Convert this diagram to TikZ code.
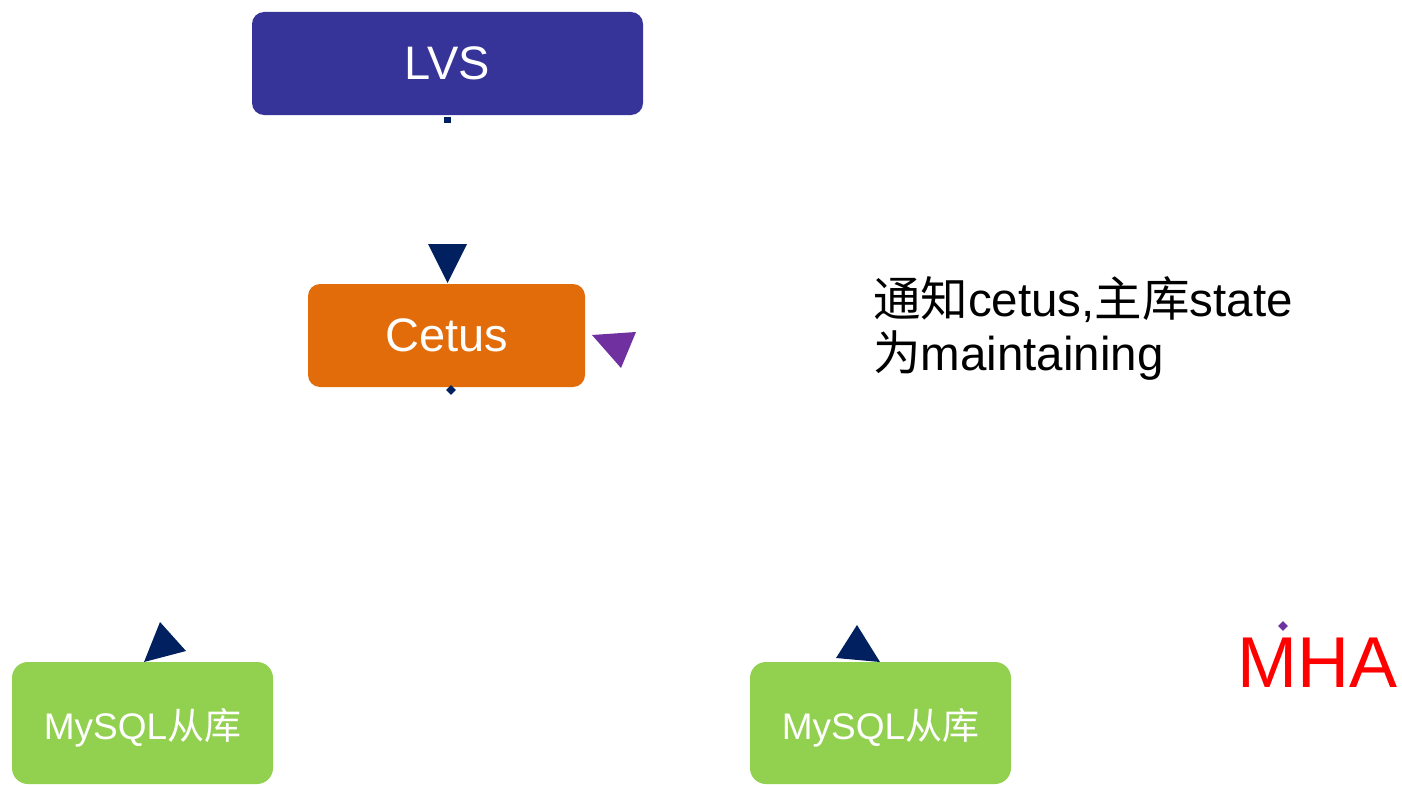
\documentclass[tikz,border=0pt]{standalone}
\usepackage{fontspec}
\usetikzlibrary{calc}
\setmainfont{Liberation Sans}
\newfontfamily\cjk{Noto Sans CJK SC}
\definecolor{lvsblue}{HTML}{363498}
\definecolor{cetusor}{HTML}{E36C0A}
\definecolor{mygreen}{HTML}{92D050}
\definecolor{navy}{HTML}{002060}
\definecolor{purp}{HTML}{7030A0}
\definecolor{mhared}{HTML}{FF0000}
\begin{document}
\begin{tikzpicture}[x=1pt,y=-1pt,
  box/.style={rectangle, rounded corners=12pt, inner sep=0pt, text=white, align=center},
  head/.style={fill=navy},
  phead/.style={fill=purp}]
\useasboundingbox (0,0) rectangle (1402,784);
\node[box, fill=lvsblue, minimum width=391pt, minimum height=103pt,
  font=\fontsize{47}{56}\selectfont] (lvs) at (447.5,63.5) {LVS};
\node[box, fill=cetusor, minimum width=277pt, minimum height=103pt,
  font=\fontsize{47}{56}\selectfont] (cetus) at (446.5,335.5) {Cetus};
\node[box, fill=mygreen, rounded corners=16pt, minimum width=261pt, minimum height=122pt,
  font=\fontsize{37}{44}\selectfont] (s1) at (142.5,723) {\raisebox{-5pt}[\height][\depth]{MySQL{\cjk 从库}}};
\node[box, fill=mygreen, rounded corners=16pt, minimum width=261pt, minimum height=122pt,
  font=\fontsize{37}{44}\selectfont] (s2) at (880.5,723) {\raisebox{-5pt}[\height][\depth]{MySQL{\cjk 从库}}};
\node[anchor=base west, inner sep=0pt, align=left, font=\fontsize{47.5}{54}\selectfont] (note) at (873,370)
  {{\cjk 通知}cetus,{\cjk 主库}state\\{\cjk 为}maintaining};
\node[anchor=base west, inner sep=0pt, text=mhared, font=\fontsize{72}{80}\selectfont] (mha) at (1237,687) {MHA};
% connector ends (lines not shown in the reference)
\coordinate (t1) at (447.5,120);
\coordinate (h1) at (447.5,283);
\coordinate (t2) at (451,390);
\coordinate (t3) at (1283,626);
% tails
\fill[navy] ($(t1)+(-3.5,-3)$) rectangle ($(t1)+(3.5,3)$);
\fill[navy, rotate around={45:(t2)}] ($(t2)+(-3.5,-3.5)$) rectangle ($(t2)+(3.5,3.5)$);
\fill[purp, rotate around={45:(t3)}] ($(t3)+(-3.5,-3.5)$) rectangle ($(t3)+(3.5,3.5)$);
% heads
\fill[head] (428,244) -- (467,244) -- (h1) -- cycle;
\fill[phead] (592,335) -- (636,332) -- (621,368) -- cycle;
\fill[head] (160,622) -- (186,651) -- (144,662) -- cycle;
\fill[head] (857,625) -- (880,662) -- (836,658) -- cycle;
\end{tikzpicture}
\end{document}
